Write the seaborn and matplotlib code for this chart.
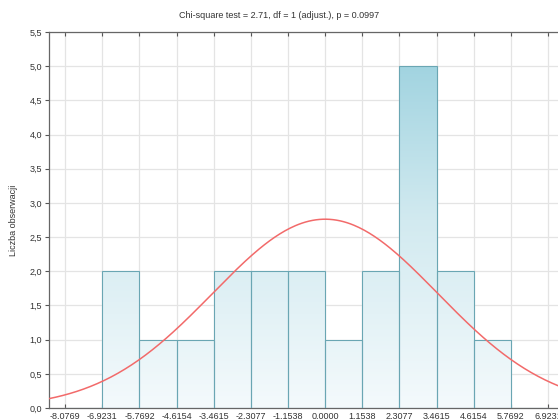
import numpy as np
import pandas as pd
import seaborn as sns
import matplotlib.pyplot as plt
from matplotlib.colors import LinearSegmentedColormap
from matplotlib.ticker import FuncFormatter

# histogram
bin_edges = [-8.0769, -6.9231, -5.7692, -4.6154, -3.4615, -2.3077, -1.1538,
             0.0000, 1.1538, 2.3077, 3.4615, 4.6154, 5.7692, 6.9231]
counts = [0, 2, 1, 1, 2, 2, 2, 1, 2, 5, 2, 1, 0]
x_ticks = bin_edges
y_ticks = [0.0, 0.5, 1.0, 1.5, 2.0, 2.5, 3.0, 3.5, 4.0, 4.5, 5.0, 5.5]

# fitted normal curve parameters
fit_mean = 0.0
fit_sd = 3.5

title = "Chi-square test = 2.71, df = 1 (adjust.), p = 0.0997"
ylabel = "Liczba obserwacji"

centers = [(a + b) / 2 for a, b in zip(bin_edges[:-1], bin_edges[1:])]
df = pd.DataFrame({"value": centers, "n": counts})

sns.set_style("white")
plt.rcParams['font.family'] = ['Liberation Sans', 'DejaVu Sans']

fig = plt.figure(figsize=(5.58, 4.2), dpi=100)
ax = fig.add_axes([49 / 558, 12 / 420, 515 / 558, 376 / 420])

sns.histplot(data=df, x="value", weights="n", bins=bin_edges, ax=ax,
             color="none", edgecolor="#6aa6b3", linewidth=0.8, alpha=1, zorder=3)

# vertical gradient inside each bar
cmap = LinearSegmentedColormap.from_list("g", ["#f4fafc", "#d2eaf0", "#97cfdd"])
grad = np.linspace(0, 1, 256).reshape(-1, 1)
for p in list(ax.patches):
    p.set_facecolor("none")
    im = ax.imshow(grad, cmap=cmap, origin="lower", aspect="auto",
                   extent=[-8.58, 7.42, 0, 5.5], zorder=2)
    im.set_clip_path(p)

# normal fit line
n_total = sum(counts)
width = bin_edges[1] - bin_edges[0]
xs = np.linspace(-8.58, 7.42, 300)
ys = n_total * width * np.exp(-0.5 * ((xs - fit_mean) / fit_sd) ** 2) / (fit_sd * np.sqrt(2 * np.pi))
sns.lineplot(x=xs, y=ys, ax=ax, color="#f26a6a", linewidth=1.1, zorder=4)

ax.set_xlim(-8.58, 7.42)
ax.set_ylim(0, 5.5)
ax.set_xticks(x_ticks)
ax.set_yticks(y_ticks)
ax.xaxis.set_major_formatter(FuncFormatter(lambda v, _: f"{v:.4f}"))
ax.yaxis.set_major_formatter(FuncFormatter(lambda v, _: f"{v:.1f}".replace(".", ",")))
ax.grid(True, color="#e4e4e4", linewidth=0.9, zorder=0)
ax.set_axisbelow(True)
ax.tick_params(axis="x", direction="in", length=3, labelsize=6.5, colors="#555555",
               labelcolor="#333333", top=True, bottom=True, pad=3)
ax.tick_params(axis="y", direction="out", length=3, labelsize=6.5, colors="#555555",
               labelcolor="#333333", left=True, pad=2)
for s in ax.spines.values():
    s.set_color("#666666")
    s.set_linewidth(0.9)
ax.spines["right"].set_visible(False)

ax.set_xlabel("")
ax.set_ylabel(ylabel, fontsize=6.5, color="#333333", labelpad=8)
fig.text(0.5, 1 - 16 / 420, title, fontsize=6.5, color="#333333", ha="center", va="center")

fig.savefig("out.png", dpi=100)
